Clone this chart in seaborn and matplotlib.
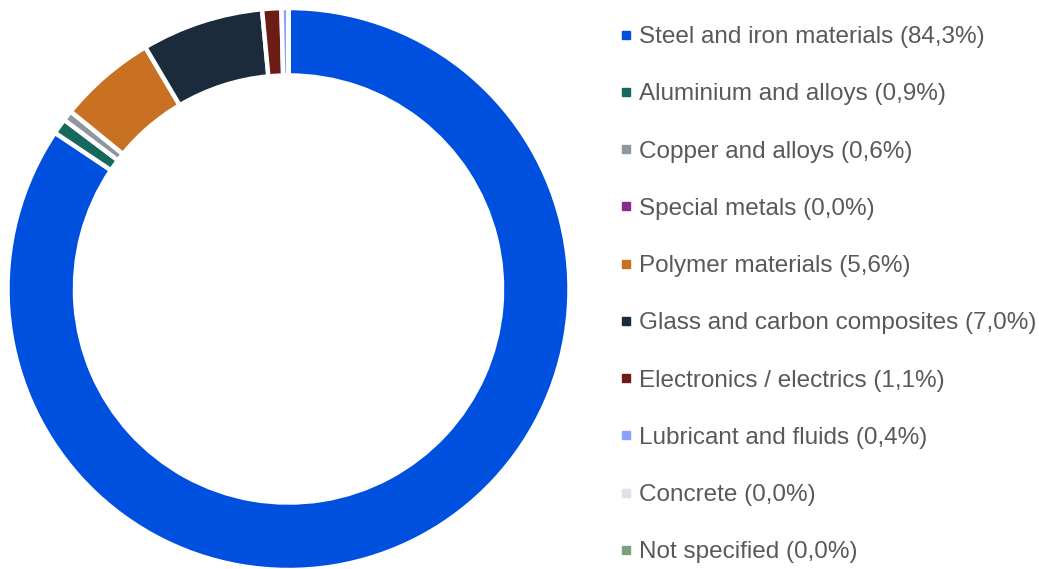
import matplotlib
matplotlib.use("Agg")
import matplotlib.pyplot as plt
from matplotlib.lines import Line2D
import seaborn as sns

materials = [
    "Steel and iron materials",
    "Aluminium and alloys",
    "Copper and alloys",
    "Special metals",
    "Polymer materials",
    "Glass and carbon composites",
    "Electronics / electrics",
    "Lubricant and fluids",
    "Concrete",
    "Not specified",
]
shares = [84.3, 0.9, 0.6, 0.0, 5.6, 7.0, 1.1, 0.4, 0.0, 0.0]
palette_hex = [
    "#0050E0", "#16675C", "#8E969E", "#8B2A8B", "#C87122",
    "#1C2B3B", "#6B1C15", "#8CA0FF", "#E2DEEA", "#7FA07F",
]

sns.set_theme(style="white")
plt.rcParams["font.family"] = ["Liberation Sans", "DejaVu Sans"]
colors = sns.color_palette(palette_hex)

W, H = 1039, 569
fig = plt.figure(figsize=(W / 100, H / 100), dpi=100)

cx, cy, r = 288.5, 289, 281
ax = fig.add_axes([(cx - r) / W, (H - cy - r) / H, 2 * r / W, 2 * r / H])
ax.pie(
    shares,
    colors=colors,
    startangle=90,
    counterclock=False,
    radius=1.0,
    wedgeprops=dict(width=0.24, edgecolor="white", linewidth=3.2),
)
ax.set_xlim(-1, 1)
ax.set_ylim(-1, 1)
ax.set_aspect("equal")
ax.axis("off")

labels = [f"{m} ({str(v).replace('.', ',')}%)" for m, v in zip(materials, shares)]
handles = [
    Line2D([], [], linestyle="none", marker="s", markersize=5.5,
           markerfacecolor=c, markeredgecolor=c)
    for c in colors
]
fig.legend(
    handles, labels,
    loc="upper left",
    bbox_to_anchor=(620 / W, 1 - 26 / H),
    frameon=False,
    fontsize=17.5,
    labelcolor="#595959",
    handlelength=0.5,
    handletextpad=0.3,
    labelspacing=1.45,
    borderaxespad=0,
    borderpad=0,
)

fig.savefig("out.png", dpi=100, facecolor="white")
